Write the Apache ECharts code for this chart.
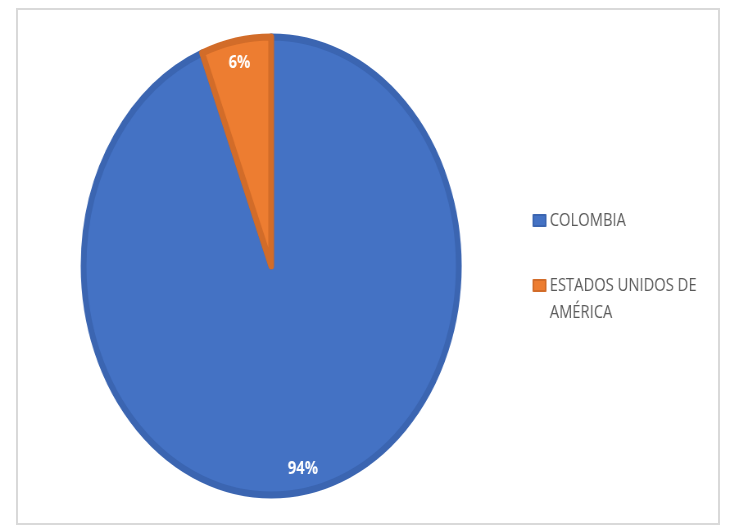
<!DOCTYPE html>
<html>
<head>
<meta charset="utf-8">
<script src="https://cdn.jsdelivr.net/npm/echarts@6/dist/echarts.min.js"></script>
<style>
  html, body { margin: 0; padding: 0; background: #fff; }
  body { width: 730px; height: 527px; position: relative; overflow: hidden; }
  .frame { position: absolute; left: 16px; top: 8px; width: 700px; height: 513px; border: 2px solid #d9d9d9; }
  #chart { position: absolute; left: 0; top: 0; width: 891px; height: 527px; transform: scaleX(0.8193); transform-origin: 0 0; }
</style>
</head>
<body>
<div class="frame"></div>
<div id="chart"></div>
<script>
  // datos del gráfico
  const paises = ['COLOMBIA', 'ESTADOS UNIDOS DE AMÉRICA'];
  const porcentajes = [94, 6];
  const colores = ['#4472C4', '#ED7D31'];
  const bordes = ['#3B65B1', '#D26C29'];

  const chart = echarts.init(document.getElementById('chart'));

  const datos = paises.map((p, i) => ({
    name: p,
    value: porcentajes[i],
    itemStyle: { color: colores[i], borderColor: bordes[i] }
  }));

  chart.setOption({
    animation: false,
    legend: {
      orient: 'vertical',
      left: 650,
      top: 207,
      padding: 0,
      itemGap: 11,
      itemWidth: 15,
      itemHeight: 11,
      icon: 'rect',
      textStyle: {
        color: '#595959',
        fontFamily: 'Open Sans',
        fontSize: 18,
        lineHeight: 27
      },
      formatter(name) {
        // el segundo nombre va en dos líneas, cuadrito alineado con la primera
        return name === paises[1] ? ' \nESTADOS UNIDOS DE\nAMÉRICA' : name;
      },
      data: paises.map((p, i) => ({ name: p, itemStyle: { color: colores[i] } }))
    },
    series: [{
      type: 'pie',
      center: [331, 266],
      radius: [0, 229],
      startAngle: 90,
      clockwise: true,
      silent: true,
      label: { show: false },
      labelLine: { show: false },
      itemStyle: { borderWidth: 7 },
      data: datos
    }, {
      // anillo transparente solo para ubicar las etiquetas cerca del borde
      type: 'pie',
      center: [331, 266],
      radius: [178, 229],
      startAngle: 90,
      clockwise: true,
      silent: true,
      z: 5,
      itemStyle: { color: 'transparent', borderWidth: 0 },
      label: {
        show: true,
        position: 'inside',
        color: '#fff',
        fontFamily: 'Open Sans',
        fontWeight: 'bold',
        fontSize: 18,
        padding: [10, 0, 0, 0],
        formatter: p => p.value + '%'
      },
      labelLine: { show: false },
      data: paises.map((p, i) => ({ name: p, value: porcentajes[i] }))
    }]
  });
</script>
</body>
</html>
